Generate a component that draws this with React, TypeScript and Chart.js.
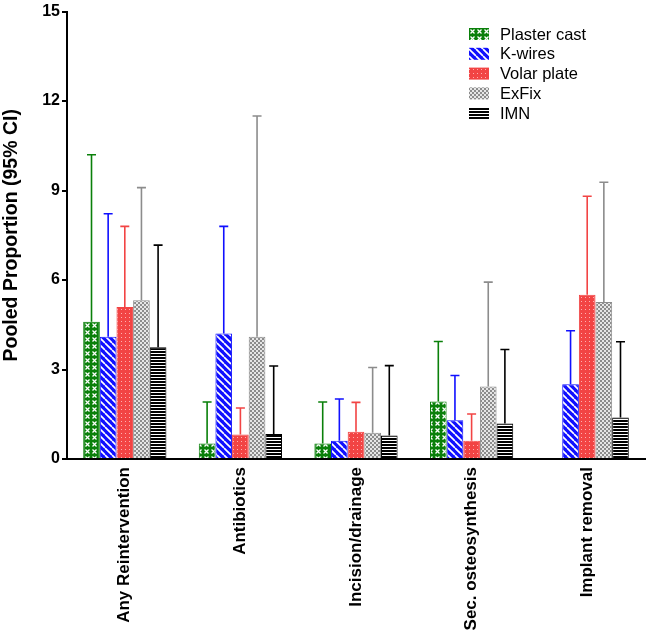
import React, { useEffect, useRef } from "react";
import { Chart, registerables } from "chart.js";

Chart.register(...registerables);

const categories = [
  "Any Reintervention",
  "Antibiotics",
  "Incision/drainage",
  "Sec. osteosynthesis",
  "Implant removal",
];
const seriesNames = ["Plaster cast", "K-wires", "Volar plate", "ExFix", "IMN"];

const plasterCast = [4.6, 0.52, 0.52, 1.93, null];
const plasterCastUpper = [10.2, 1.91, 1.91, 3.94, null];
const kWires = [4.1, 4.21, 0.61, 1.3, 2.51];
const kWiresUpper = [8.22, 7.8, 2.01, 2.8, 4.3];
const volarPlate = [5.1, 0.82, 0.91, 0.61, 5.51];
const volarPlateUpper = [7.8, 1.71, 1.9, 1.51, 8.81];
const exFix = [5.32, 4.1, 0.88, 2.43, 5.26];
const exFixUpper = [9.1, 11.5, 3.07, 5.93, 9.28];
const imn = [3.75, 0.84, 0.79, 1.19, 1.39];
const imnUpper = [7.17, 3.12, 3.13, 3.67, 3.93];

const yTicks = [0, 3, 6, 9, 12, 15];

const FONT = "'Liberation Sans', Arial, sans-serif";
const colors = ["#0a800a", "#1010ff", "#f24444", "#8c8c8c", "#000000"];

function makeTile(w: number, h: number, draw: (c: CanvasRenderingContext2D) => void) {
  const t = document.createElement("canvas");
  t.width = w;
  t.height = h;
  const c = t.getContext("2d")!;
  draw(c);
  return t;
}

function makePatterns(ctx: CanvasRenderingContext2D) {
  const green = makeTile(7, 7, (c) => {
    c.fillStyle = colors[0];
    c.fillRect(0, 0, 7, 7);
    c.strokeStyle = "#ffffff";
    c.lineWidth = 1.3;
    c.beginPath();
    c.moveTo(1.5, 1.5);
    c.lineTo(5.5, 5.5);
    c.moveTo(5.5, 1.5);
    c.lineTo(1.5, 5.5);
    c.stroke();
  });
  const blue = makeTile(7, 7, (c) => {
    c.fillStyle = colors[1];
    c.fillRect(0, 0, 7, 7);
    c.strokeStyle = "#ffffff";
    c.lineWidth = 1.7;
    for (const o of [-7, 0, 7]) {
      c.beginPath();
      c.moveTo(o, 0);
      c.lineTo(o + 7, 7);
      c.stroke();
    }
  });
  const red = makeTile(4, 4, (c) => {
    c.fillStyle = colors[2];
    c.fillRect(0, 0, 4, 4);
    c.fillStyle = "#ffb0b0";
    c.fillRect(1, 1, 1, 1);
  });
  const gray = makeTile(4, 4, (c) => {
    c.fillStyle = "#e6e6e6";
    c.fillRect(0, 0, 4, 4);
    c.fillStyle = "#8c8c8c";
    c.fillRect(0, 0, 2, 2);
    c.fillRect(2, 2, 2, 2);
  });
  const black = makeTile(3, 3, (c) => {
    c.fillStyle = "#ffffff";
    c.fillRect(0, 0, 3, 3);
    c.fillStyle = "#000000";
    c.fillRect(0, 0, 3, 2);
  });
  return [green, blue, red, gray, black].map((t) => ctx.createPattern(t, "repeat")!);
}

export default function App() {
  const ref = useRef<HTMLCanvasElement | null>(null);

  useEffect(() => {
    document.body.style.margin = "0";
    const canvas = ref.current!;
    const ctx = canvas.getContext("2d")!;
    const patterns = makePatterns(ctx);
    const values = [plasterCast, kWires, volarPlate, exFix, imn];
    const uppers = [plasterCastUpper, kWiresUpper, volarPlateUpper, exFixUpper, imnUpper];

    const errorBars = {
      id: "errorBars",
      afterDatasetsDraw(chart: any) {
        const c = chart.ctx;
        const yScale = chart.scales.y;
        chart.data.datasets.forEach((ds: any, i: number) => {
          const meta = chart.getDatasetMeta(i);
          meta.data.forEach((el: any, j: number) => {
            const up = uppers[i][j];
            const v = values[i][j];
            if (up == null || v == null) return;
            const yTop = yScale.getPixelForValue(up);
            c.save();
            c.strokeStyle = colors[i];
            c.lineWidth = 1.6;
            c.beginPath();
            c.moveTo(el.x, el.y);
            c.lineTo(el.x, yTop);
            c.moveTo(el.x - 4.5, yTop);
            c.lineTo(el.x + 4.5, yTop);
            c.stroke();
            c.restore();
          });
        });
      },
      afterDraw(chart: any) {
        const c = chart.ctx;
        c.save();
        seriesNames.forEach((name, i) => {
          const yc = 34 + i * 19.8;
          c.fillStyle = patterns[i];
          c.fillRect(469, yc - 6, 20, 12);
          c.fillStyle = "#000";
          c.font = `16.5px ${FONT}`;
          c.textAlign = "left";
          c.textBaseline = "middle";
          c.fillText(name, 500, yc + 1);
        });
        const area = chart.chartArea;
        c.translate(12, (area.top + area.bottom) / 2);
        c.rotate(-Math.PI / 2);
        c.font = `bold 19.5px ${FONT}`;
        c.textAlign = "center";
        c.textBaseline = "middle";
        c.fillStyle = "#000";
        c.fillText("Pooled Proportion (95% CI)", 0, 0);
        c.restore();
      },
    };

    const chart = new Chart(canvas, {
      type: "bar",
      data: {
        labels: categories,
        datasets: seriesNames.map((name, i) => ({
          label: name,
          data: values[i] as any,
          backgroundColor: patterns[i] as any,
          borderColor: colors[i],
          borderWidth: 1,
          categoryPercentage: 0.72,
          barPercentage: 1,
        })),
      },
      options: {
        responsive: false,
        animation: false,
        devicePixelRatio: 1,
        layout: { padding: { top: 9, right: 3, left: 0, bottom: 0 } },
        plugins: { legend: { display: false }, tooltip: { enabled: false } },
        scales: {
          x: {
            grid: { display: false },
            border: { display: true, color: "#000", width: 2 },
            ticks: {
              color: "#000",
              font: { family: FONT, size: 17, weight: "bold" },
              maxRotation: 90,
              minRotation: 90,
              padding: 0,
              autoSkip: false,
            },
            afterFit(scale: any) {
              scale.height = 174;
            },
          },
          y: {
            min: 0,
            max: 15,
            afterBuildTicks(scale: any) {
              scale.ticks = yTicks.map((v) => ({ value: v }));
            },
            grid: {
              drawOnChartArea: false,
              drawTicks: true,
              tickLength: 5,
              color: "#000",
              lineWidth: 2,
            },
            border: { display: true, color: "#000", width: 2 },
            ticks: {
              color: "#000",
              font: { family: FONT, size: 16, weight: "bold" },
              padding: 2,
            },
            afterFit(scale: any) {
              scale.width = 67;
            },
          },
        },
      },
      plugins: [errorBars],
    });
    return () => chart.destroy();
  }, []);

  return (
    <div style={{ width: 648, height: 633 }}>
      <canvas ref={ref} width={648} height={633} />
    </div>
  );
}
